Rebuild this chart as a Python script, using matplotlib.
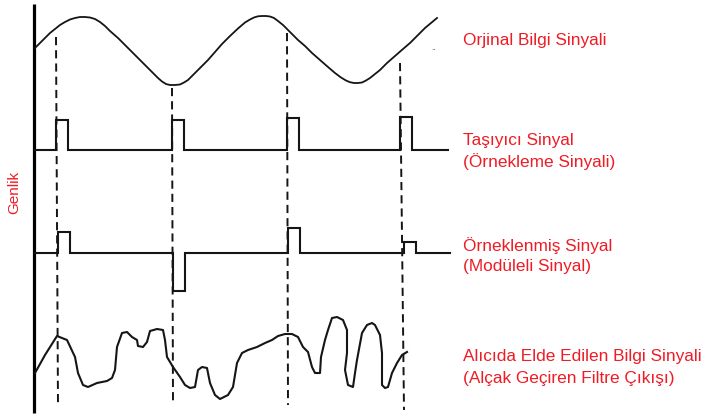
import matplotlib
matplotlib.use("Agg")
import matplotlib.pyplot as plt

# ---------------- data (picture units: x to the right, y downward) -------------
# Original information signal (sine-like wave)
sine_x = [35, 40, 45, 50, 55, 60, 65, 70, 75, 80, 85, 90, 95, 100, 105, 110, 118, 125,
          132, 140, 147, 153, 158, 162, 166, 170, 175, 180, 184, 188, 193, 200, 208,
          215, 222, 230, 238, 245, 250, 254, 258, 262, 266, 270, 274, 278, 283, 290,
          298, 305, 312, 320, 328, 335, 341, 346, 350, 354, 358, 362, 366, 370, 375,
          380, 387, 395, 403, 410, 418, 425, 431, 437]
sine_y = [48, 43, 38, 33, 29, 25, 22, 19.5, 18, 17, 17, 17.5, 19, 22, 26, 31, 38, 45,
          52, 60, 67, 73, 78, 81.5, 84, 85, 85, 84.5, 82.5, 80, 75, 68, 60,
          52, 44, 36, 28.5, 22.5, 19.5, 17.5, 16.3, 16, 16, 16.5, 18, 21, 25, 32,
          40, 46, 53, 60, 67, 73, 77.5, 80.5, 82.2, 83, 83, 82.5, 80.5, 78, 74,
          70, 63, 56, 49, 43, 35, 28, 23, 18]

# Carrier (sampling) pulse train
carrier_base = 150
carrier_start = [56, 172, 287, 400]
carrier_height = [30, 30, 32, 33]
pulse_width = 12
carrier_span = (35, 448)

# Sampled (modulated) pulse train
mod_base = 253
mod_start = [58, 173, 288, 404]
mod_height = [21, -38, 25, 11]
mod_span = (35, 450)

# Receiver output (low-pass filter output)
rx_x = [35, 45, 57, 67, 75, 78, 83, 88, 97, 107, 112, 115, 117, 122, 127, 132, 137,
        138, 143, 147, 150, 157, 163, 165, 167, 173, 180, 185, 190, 195, 198, 202,
        207, 210, 215, 220, 228, 233, 237, 242, 248, 257, 265, 272, 278, 285, 292,
        298, 303, 308, 312, 315, 320, 321, 325, 328, 332, 337, 343, 347, 347, 345,
        348, 353, 355, 357, 362, 367, 372, 375, 380, 382, 382, 385, 388, 392, 397,
        402, 407]
rx_y = [373, 355, 336, 340, 357, 373, 385, 387, 383, 381, 378, 370, 347, 333, 332,
        337, 340, 346, 347, 342, 331, 329, 330, 340, 357, 367, 377, 385, 388, 387,
        370, 367, 368, 383, 395, 399, 395, 387, 363, 353, 350, 347, 343, 340, 336,
        334, 334, 337, 347, 352, 367, 373, 373, 357, 340, 330, 318, 317, 320, 330,
        353, 370, 385, 387, 373, 360, 333, 325, 323, 325, 335, 353, 385, 388, 387,
        373, 363, 355, 352]

# Dashed sampling guides
guide_x_top = [56, 172, 287, 400]
guide_x_bot = [58, 173, 288, 404]
guide_y_top = [37, 88, 33, 63]
guide_y_bot = [407, 403, 405, 410]

# Labels
labels = [
    ("Orjinal Bilgi Sinyali", 40),
    ("Taşıyıcı Sinyal", 140),
    ("(Örnekleme Sinyali)", 162),
    ("Örneklenmiş Sinyal", 246),
    ("(Modüleli Sinyal)", 267),
    ("Alıcıda Elde Edilen Bilgi Sinyali", 357),
    ("(Alçak Geçiren Filtre Çıkışı)", 378),
]
label_x = 463
ylabel_text = "Genlik"

# ---------------- drawing -------------------------------------------------------
W, H = 706, 417
fig = plt.figure(figsize=(W / 100, H / 100), dpi=100)
ax = fig.add_axes([0, 0, 1, 1])
ax.set_xlim(0, W)
ax.set_ylim(H, 0)
ax.axis("off")

ink = "#151515"
red = "#ee1c25"
fam = ["Liberation Sans", "DejaVu Sans"]

# vertical amplitude axis
ax.plot([34, 34], [4, 413], color="#000000", lw=2.3, solid_capstyle="butt")

# sine
ax.plot(sine_x, sine_y, color=ink, lw=1.3)
ax.text(434, 48, "..", fontsize=5, color="#444444", ha="center", va="center")


def pulse_train(base, starts, heights, width, span):
    xs, ys = [span[0]], [base]
    for s, h in zip(starts, heights):
        xs += [s, s, s + width, s + width]
        ys += [base, base - h, base - h, base]
    xs.append(span[1])
    ys.append(base)
    return xs, ys


cx, cy = pulse_train(carrier_base, carrier_start, carrier_height, pulse_width, carrier_span)
ax.plot(cx, cy, color=ink, lw=1.5, solid_joinstyle="miter")
mx, my = pulse_train(mod_base, mod_start, mod_height, pulse_width, mod_span)
ax.plot(mx, my, color=ink, lw=1.5, solid_joinstyle="miter")

# receiver output
ax.plot(rx_x, rx_y, color=ink, lw=1.5)

# dashed guides
for xt, xb, yt, yb in zip(guide_x_top, guide_x_bot, guide_y_top, guide_y_bot):
    ax.plot([xt, xb], [yt, yb], color=ink, lw=1.4, linestyle=(0, (4.2, 2.6)))

# labels
for txt, y in labels:
    ax.text(label_x, y, txt, fontsize=12.4, color=red, family=fam,
            ha="left", va="center")

ax.text(14, 192, ylabel_text, fontsize=11, color=red, family=fam,
        rotation=90, ha="center", va="center")

fig.savefig("out.png", dpi=100)
